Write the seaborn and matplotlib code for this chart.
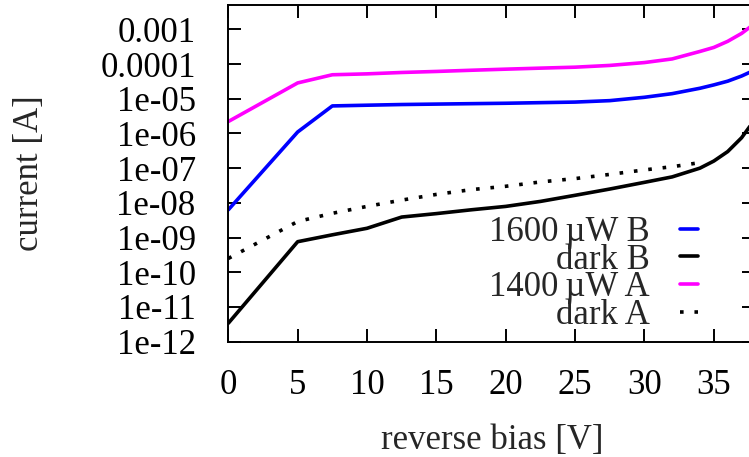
import matplotlib
matplotlib.use("Agg")
import matplotlib.pyplot as plt
import matplotlib.ticker as mticker
import numpy as np
import pandas as pd
import seaborn as sns

# Reverse-bias sweeps (V) and measured currents (A)
bias_light = [0, 5, 7.5, 10, 12.5, 15, 17.5, 20, 22.5, 25, 27.5, 30, 32, 34, 35, 36, 37, 37.6]
current_1400uW_A = [2.2e-6, 2.85e-5, 4.9e-5, 5.2e-5, 5.7e-5, 6.1e-5, 6.6e-5, 7.1e-5, 7.6e-5,
                    8.1e-5, 9.1e-5, 1.1e-4, 1.4e-4, 2.3e-4, 3.0e-4, 4.5e-4, 7.6e-4, 1.15e-3]
current_1600uW_B = [6.3e-9, 1.1e-6, 6.2e-6, 6.5e-6, 6.8e-6, 7.0e-6, 7.2e-6, 7.4e-6, 7.7e-6,
                    8.0e-6, 8.8e-6, 1.1e-5, 1.4e-5, 2.0e-5, 2.5e-5, 3.2e-5, 4.5e-5, 5.8e-5]

bias_dark_B = [0, 5, 7.5, 10, 12.5, 15, 17.5, 20, 22.5, 25, 27.5, 30, 32, 34, 35, 36, 37, 37.6]
current_dark_B = [3.4e-12, 7.6e-10, 1.2e-9, 1.85e-9, 3.9e-9, 4.9e-9, 6.3e-9, 7.9e-9, 1.1e-8,
                  1.65e-8, 2.5e-8, 3.9e-8, 5.6e-8, 1.0e-7, 1.6e-7, 3.0e-7, 7.5e-7, 1.6e-6]

bias_dark_A = [0, 5, 7.5, 10, 12.5, 15, 17.5, 20, 22.5, 25, 27.5, 30, 32, 34.3]
current_dark_A = [2.5e-10, 2.9e-9, 5.0e-9, 7.9e-9, 1.2e-8, 1.75e-8, 2.4e-8, 3.0e-8, 4.0e-8,
                  5.0e-8, 6.6e-8, 8.9e-8, 1.1e-7, 1.5e-7]

y_tick_values = [1e-12, 1e-11, 1e-10, 1e-9, 1e-8, 1e-7, 1e-6, 1e-5, 1e-4, 1e-3]
y_tick_labels = ["1e-12", "1e-11", "1e-10", "1e-09", "1e-08", "1e-07", "1e-06",
                 "1e-05", "0.0001", "0.001"]
x_tick_values = [0, 5, 10, 15, 20, 25, 30, 35]

sns.set_style("ticks")
plt.rcParams["font.family"] = ["Liberation Serif", "DejaVu Serif"]

FS = 25

fig = plt.figure(figsize=(7.49, 4.57), dpi=100)
ax = fig.add_axes([0.3048, 0.2523, 0.7038, 0.7367])

series = [
    ("1600\u2009\u00b5W B", bias_light, current_1600uW_B, "#0000ff", "-"),
    ("dark B", bias_dark_B, current_dark_B, "#000000", "-"),
    ("1400\u2009\u00b5W A", bias_light, current_1400uW_A, "#ff00ff", "-"),
    ("dark A", bias_dark_A, current_dark_A, "#000000", (0, (1, 3))),
]

for label, xs, ys, color, ls in series:
    df = pd.DataFrame({"bias": xs, "current": ys})
    sns.lineplot(data=df, x="bias", y="current", ax=ax, color=color,
                 linestyle=ls, linewidth=2.6, label=label, sort=False)

ax.set_yscale("log")
ax.set_xlim(0, 38)
ax.set_ylim(1e-12, 5e-3)

ax.yaxis.set_major_locator(mticker.FixedLocator(y_tick_values))
ax.yaxis.set_major_formatter(mticker.FixedFormatter(y_tick_labels))
ax.yaxis.set_minor_locator(mticker.NullLocator())
ax.xaxis.set_major_locator(mticker.FixedLocator(x_tick_values))
ax.xaxis.set_minor_locator(mticker.NullLocator())

ax.tick_params(axis="both", which="major", direction="in", length=9.4, width=1.4,
               top=True, right=True, labelsize=FS, colors="black")
ax.tick_params(axis="y", pad=23.5)
ax.tick_params(axis="x", pad=19.5)
for sp in ax.spines.values():
    sp.set_visible(True)
    sp.set_linewidth(1.4)
    sp.set_color("black")

ax.set_xlabel("reverse bias [V]", fontsize=FS)
ax.set_ylabel("current [A]", fontsize=FS)
ax.xaxis.set_label_coords(0.5, -0.245)
ax.yaxis.set_label_coords(-0.346, 0.5)

ax.legend(loc="center right", bbox_to_anchor=(0.891, 0.201), frameon=False,
          fontsize=FS, markerfirst=False, handlelength=0.52, handletextpad=0.86,
          labelspacing=-0.15, borderpad=0, borderaxespad=0)

fig.savefig("out.png", dpi=100)
